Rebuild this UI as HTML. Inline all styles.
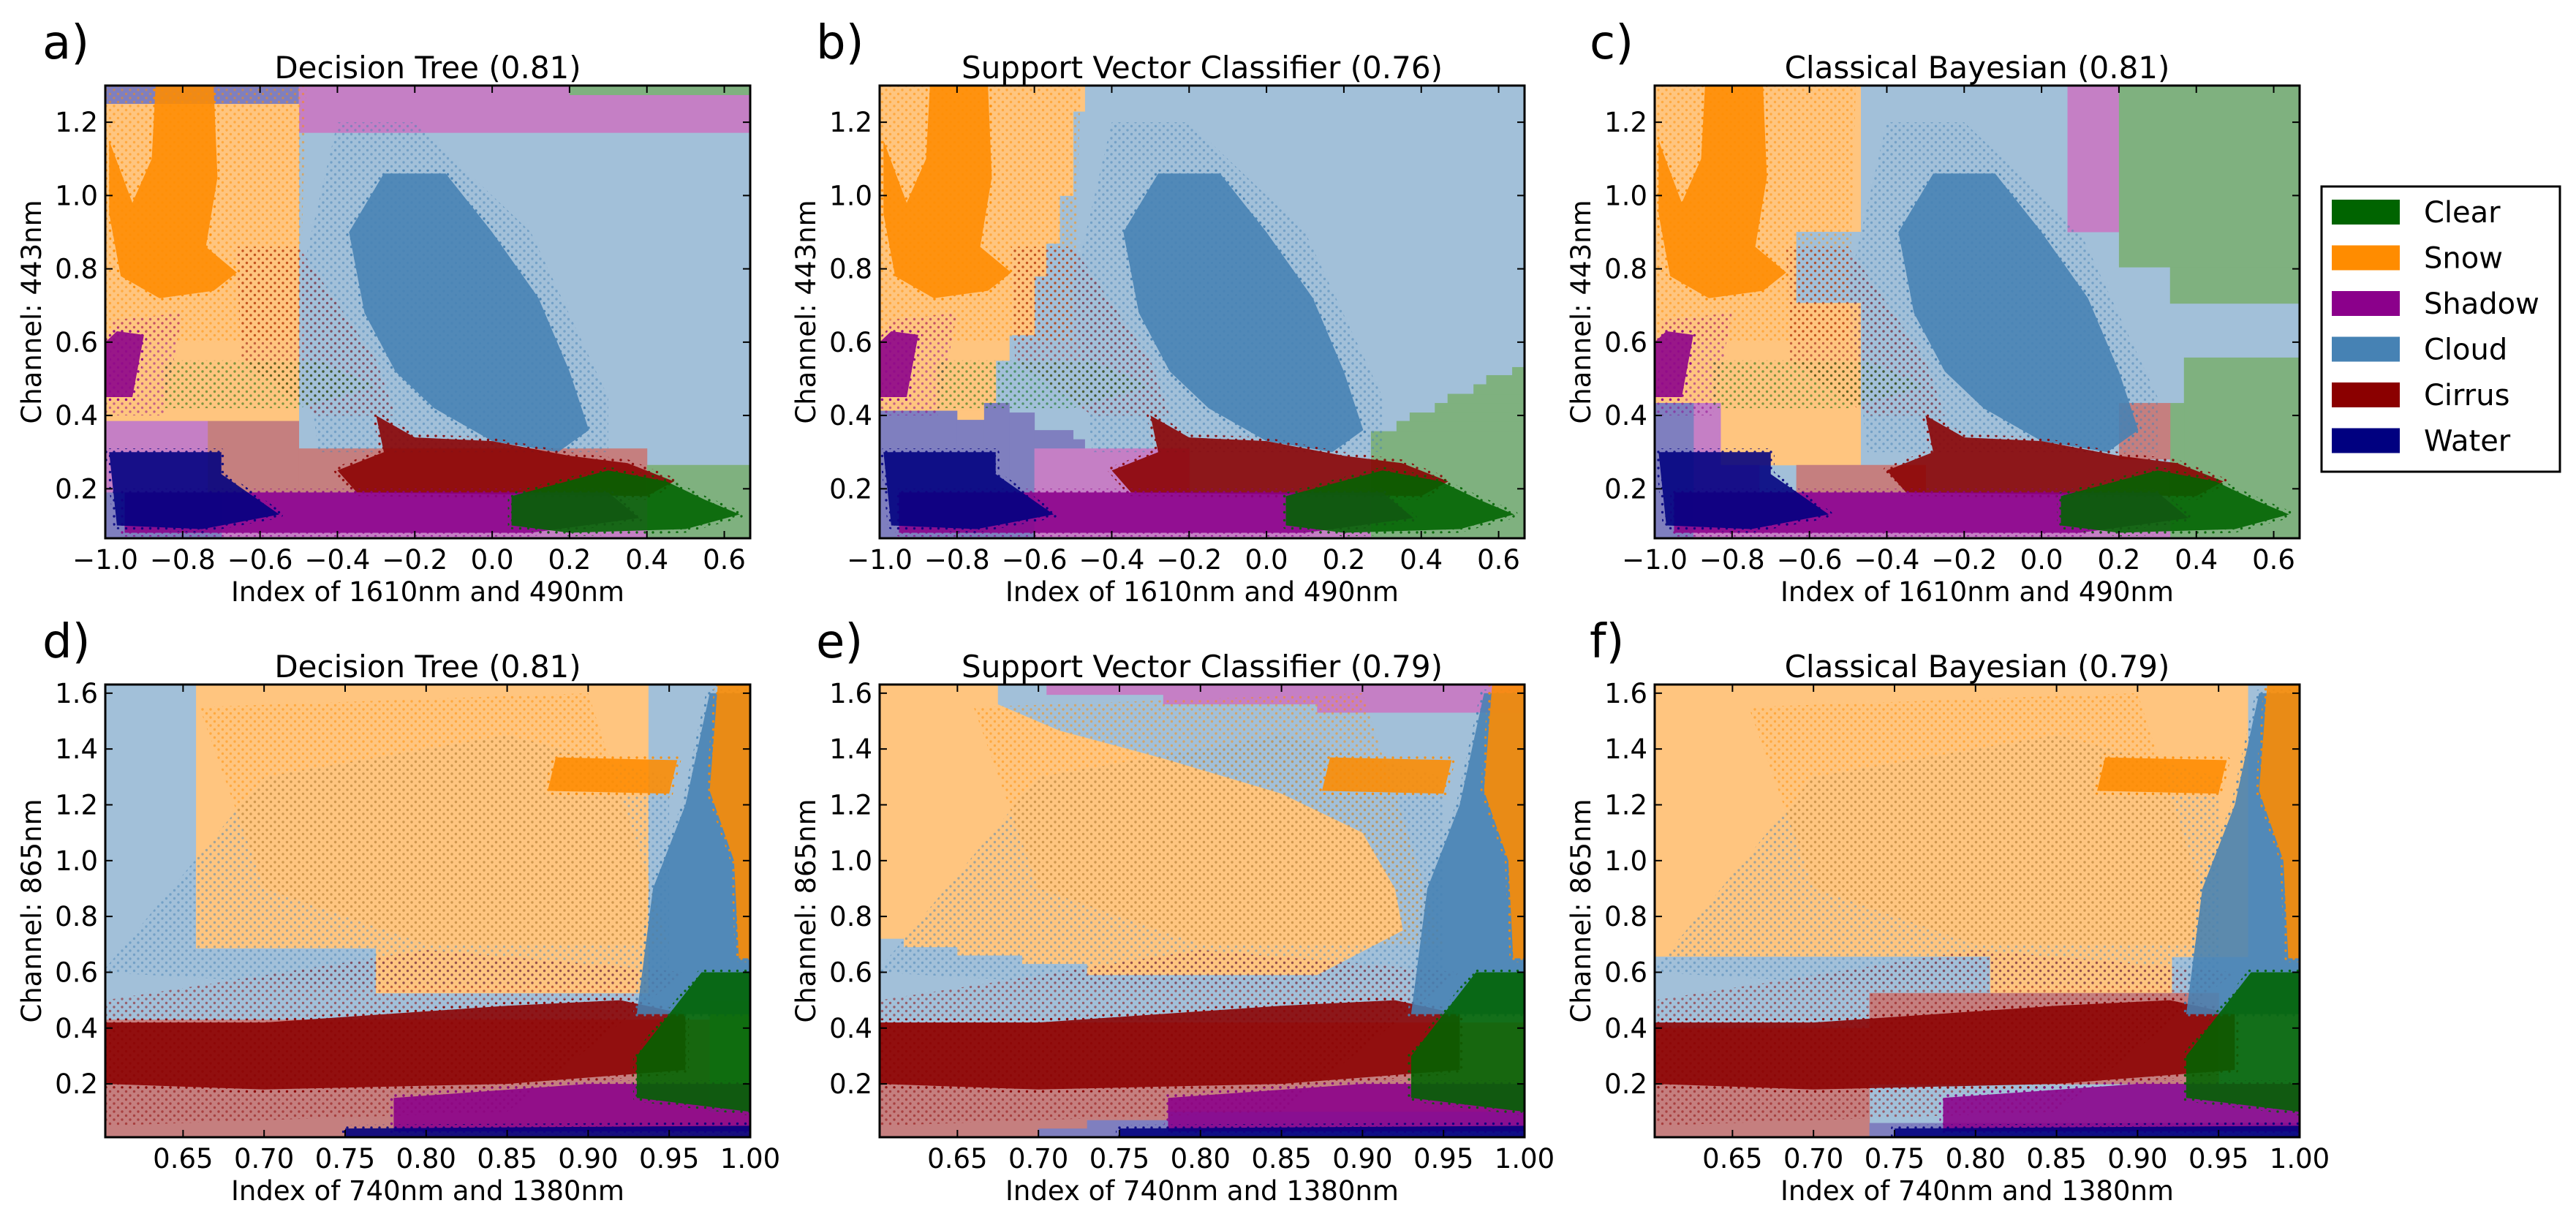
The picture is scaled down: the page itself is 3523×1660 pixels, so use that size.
<!DOCTYPE html>
<html><head><meta charset="utf-8">
<style>
html,body{margin:0;padding:0;background:#fff;}
svg{display:block;font-family:"DejaVu Sans","Liberation Sans",sans-serif;}
</style></head>
<body>
<svg id="fig" width="3523" height="1660" viewBox="0 0 3523 1660" xmlns="http://www.w3.org/2000/svg">
<defs id="defs"></defs>
</svg>
<script>
// ---------- data ----------
const classNames = ['clear','snow','shadow','cloud','cirrus','water'];
const legendLabels = ['Clear','Snow','Shadow','Cloud','Cirrus','Water'];
const solidColors = {clear:'#006400',snow:'#ff8c00',shadow:'#8b008b',cloud:'#4682b4',cirrus:'#8b0000',water:'#000080'};
const regionColors = {clear:'#7fb17f',snow:'#ffc57f',shadow:'#c57fc5',cloud:'#a2c0d9',cirrus:'#c57f7f',water:'#7f7fbf'};

const topXDomain = [-1.0, 0.667];
const topYDomain = [0.065, 1.3];
const botXDomain = [0.602, 1.0];
const botYDomain = [0.009, 1.631];
const topXTicks = [-1.0,-0.8,-0.6,-0.4,-0.2,0.0,0.2,0.4,0.6];
const topXTickLabels = ['\u22121.0','\u22120.8','\u22120.6','\u22120.4','\u22120.2','0.0','0.2','0.4','0.6'];
const topYTicks = [0.2,0.4,0.6,0.8,1.0,1.2];
const topYTickLabels = ['0.2','0.4','0.6','0.8','1.0','1.2'];
const botXTicks = [0.65,0.70,0.75,0.80,0.85,0.90,0.95,1.00];
const botXTickLabels = ['0.65','0.70','0.75','0.80','0.85','0.90','0.95','1.00'];
const botYTicks = [0.2,0.4,0.6,0.8,1.0,1.2,1.4,1.6];
const botYTickLabels = ['0.2','0.4','0.6','0.8','1.0','1.2','1.4','1.6'];

// decision regions: [class, x1, x2, y1, y2] (data units), background = cloud
const regionsA = [
 ['water',-1,-0.5,1.25,1.3],['shadow',-0.5,0.667,1.172,1.3],['clear',0.2,0.667,1.275,1.3],
 ['snow',-1,-0.5,0.385,1.25],['shadow',-1,-0.735,0.19,0.385],['cirrus',-0.735,-0.5,0.19,0.385],
 ['cirrus',-0.5,0.4,0.19,0.31],['clear',0.4,0.667,0.065,0.265],['shadow',-0.7,0.4,0.065,0.19],
 ['water',-1,-0.7,0.065,0.19]];
const regionsB = [
 ['snow',-1,-0.47,1.23,1.3],['snow',-1,-0.5,1.0,1.23],['snow',-1,-0.535,0.87,1.0],['snow',-1,-0.57,0.78,0.87],
 ['snow',-1,-0.6,0.62,0.78],['snow',-1,-0.665,0.55,0.62],['snow',-1,-0.7,0.413,0.55],['snow',-0.8,-0.73,0.388,0.413],
 ['water',-1,-0.8,0.065,0.413],['water',-0.8,-0.73,0.065,0.388],['water',-0.73,-0.665,0.065,0.434],
 ['water',-0.665,-0.6,0.065,0.408],['water',-0.6,-0.5,0.31,0.36],['water',-0.5,-0.47,0.31,0.335],
 ['shadow',-0.6,-0.2,0.065,0.31],['shadow',-0.2,0.27,0.065,0.19],
 ['clear',0.27,0.667,0.065,0.357],['clear',0.336,0.667,0.357,0.385],['clear',0.37,0.667,0.385,0.408],
 ['clear',0.435,0.667,0.408,0.434],['clear',0.468,0.667,0.434,0.459],['clear',0.535,0.667,0.459,0.485],
 ['clear',0.568,0.667,0.485,0.51],['clear',0.635,0.667,0.51,0.532]];
const regionsC = [
 ['snow',-1,-0.468,0.265,1.3],['cloud',-0.634,-0.468,0.708,0.901],['shadow',0.067,0.2,0.901,1.3],
 ['clear',0.2,0.667,0.805,1.3],['clear',0.332,0.667,0.706,0.805],['clear',0.368,0.667,0.065,0.558],
 ['clear',0.332,0.368,0.065,0.434],['cirrus',0.2,0.332,0.281,0.434],['cirrus',-0.634,-0.3,0.19,0.265],
 ['shadow',-1,-0.83,0.19,0.434],['shadow',-0.83,-0.73,0.19,0.265],['water',-1,-0.9,0.065,0.434],
 ['shadow',-0.9,0.332,0.065,0.19]];
const regionsD = [
 ['snow',0.658,0.937,0.687,1.631],['snow',0.769,0.937,0.526,0.687],['cirrus',0.602,1.0,0.009,0.43],
 ['clear',0.975,1.0,0.1,0.5]];
const regionsE = [['cirrus',0.602,1.0,0.009,0.42]];
const polyRegionsE = [
 ['snow',[[0.602,1.631],[0.675,1.631],[0.675,1.56],[0.713,1.466],[0.777,1.366],[0.85,1.24],[0.9,1.1],[0.92,0.9],[0.925,0.75],[0.872,0.59],[0.73,0.59],[0.73,0.63],[0.69,0.63],[0.69,0.66],[0.65,0.66],[0.65,0.69],[0.617,0.69],[0.617,0.72],[0.602,0.72]]],
 ['shadow',[[0.705,1.631],[1,1.631],[1,1.53],[0.872,1.53],[0.872,1.56],[0.777,1.56],[0.777,1.594],[0.705,1.594]]],
 ['water',[[0.7,0.009],[1,0.009],[1,0.1],[0.78,0.1],[0.78,0.07],[0.73,0.07],[0.73,0.04],[0.7,0.04]]]];
const regionsF = [
 ['snow',0.602,0.968,0.656,1.631],['cloud',0.602,0.809,0.40,0.656],['snow',0.809,0.921,0.526,0.656],
 ['cirrus',0.602,0.7345,0.009,0.40],['cirrus',0.7345,0.95,0.2,0.526],['water',0.7345,1,0.009,0.06]];

// scatter clusters (dense cores and sparse halos), data units
const topSparse = [
 ['snow',[[-1,0.6],[-0.5,0.6],[-0.48,1.3],[-1,1.3]]],
 ['cloud',[[-0.4,1.2],[-0.2,1.2],[0.1,0.9],[0.3,0.45],[0.3,0.3],[-0.45,0.3],[-0.5,0.75]]],
 ['cirrus',[[-0.66,0.86],[-0.5,0.86],[-0.3,0.55],[-0.25,0.4],[-0.45,0.4],[-0.65,0.55]]],
 ['shadow',[[-1,0.4],[-0.85,0.4],[-0.8,0.68],[-0.98,0.66]]],
 ['clear',[[-0.85,0.42],[-0.5,0.42],[-0.3,0.48],[-0.45,0.55],[-0.85,0.55]]]];
const topDense = [
 ['cloud',[[-0.28,1.06],[-0.12,1.06],[0.0,0.9],[0.12,0.72],[0.2,0.52],[0.25,0.36],[0.17,0.3],[0.0,0.33],[-0.15,0.42],[-0.25,0.52],[-0.33,0.68],[-0.37,0.9]]],
 ['snow',[[-0.87,1.3],[-0.72,1.3],[-0.71,1.05],[-0.74,0.86],[-0.66,0.79],[-0.72,0.74],[-0.86,0.72],[-0.96,0.78],[-0.99,0.95],[-0.99,1.15],[-0.93,0.98],[-0.88,1.1]]],
 ['shadow',[[-1,0.45],[-0.93,0.45],[-0.9,0.62],[-0.97,0.63],[-1,0.6]]],
 ['cirrus',[[-0.3,0.4],[-0.2,0.34],[0.0,0.33],[0.2,0.29],[0.35,0.27],[0.47,0.22],[0.4,0.18],[-0.35,0.19],[-0.4,0.25],[-0.28,0.3]]],
 ['shadow',[[-0.95,0.19],[0.3,0.19],[0.38,0.12],[0.1,0.08],[-0.95,0.08]]],
 ['water',[[-0.99,0.3],[-0.7,0.3],[-0.7,0.24],[-0.55,0.13],[-0.75,0.09],[-0.97,0.1]]],
 ['clear',[[0.05,0.18],[0.3,0.25],[0.45,0.22],[0.55,0.17],[0.64,0.13],[0.5,0.09],[0.2,0.08],[0.05,0.1]]]];
const botSparse = [
 ['cloud',[[0.6,0.6],[0.7,1.3],[0.85,1.45],[0.95,1.3],[0.95,0.55],[0.75,0.55]]],
 ['snow',[[0.66,1.55],[0.9,1.6],[0.95,0.7],[0.8,0.7],[0.7,0.9]]],
 ['cirrus',[[0.602,0.05],[0.85,0.1],[0.96,0.6],[0.8,0.68],[0.602,0.5]]]];
const botDense = [
 ['cirrus',[[0.602,0.42],[0.7,0.42],[0.85,0.48],[0.92,0.5],[0.96,0.45],[0.96,0.25],[0.85,0.2],[0.7,0.18],[0.602,0.2]]],
 ['cloud',[[0.93,0.45],[0.94,0.9],[0.96,1.2],[0.975,1.6],[1.0,1.6],[1.0,0.45]]],
 ['snow',[[0.875,1.25],[0.95,1.24],[0.955,1.36],[0.88,1.37]]],
 ['snow',[[0.975,1.25],[0.98,1.631],[1.0,1.631],[1.0,0.65],[0.993,0.65],[0.99,1.0]]],
 ['shadow',[[0.78,0.15],[0.9,0.2],[1.0,0.2],[1.0,0.03],[0.78,0.03]]],
 ['water',[[0.75,0.009],[1.0,0.009],[1.0,0.05],[0.75,0.04]]],
 ['clear',[[0.93,0.3],[0.97,0.6],[1.0,0.6],[1.0,0.1],[0.93,0.15]]]];

const panelTitles = ['Decision Tree (0.81)','Support Vector Classifier (0.76)','Classical Bayesian (0.81)','Decision Tree (0.81)','Support Vector Classifier (0.79)','Classical Bayesian (0.79)'];
const panelLetters = ['a)','b)','c)','d)','e)','f)'];

// ---------- layout ----------
const colX = [144, 1203, 2263];
const letterX = [58, 1116, 2174];
const PW = 882;
const rowY = [117, 936];
const PH = 619;

const NS = 'http://www.w3.org/2000/svg';
const svg = document.getElementById('fig');
const defs = document.getElementById('defs');
function mk(tag, attrs, parent){
  const e = document.createElementNS(NS, tag);
  for (const k in attrs) e.setAttribute(k, attrs[k]);
  (parent||svg).appendChild(e);
  return e;
}
classNames.forEach(c=>{
  const p = mk('pattern',{id:'dots-'+c,width:11,height:11,patternUnits:'userSpaceOnUse'},defs);
  mk('circle',{cx:2,cy:2,r:1.7,fill:solidColors[c]},p);
  mk('circle',{cx:7.5,cy:7.5,r:1.7,fill:solidColors[c]},p);
});

function drawPanel(i){
  const row = i<3?0:1, col = i%3;
  const x0 = colX[col], y0 = rowY[row];
  const xd = row===0?topXDomain:botXDomain, yd = row===0?topYDomain:botYDomain;
  const sx = v => x0 + (v-xd[0])/(xd[1]-xd[0])*PW;
  const sy = v => y0 + PH - (v-yd[0])/(yd[1]-yd[0])*PH;
  const regs = [regionsA,regionsB,regionsC,regionsD,regionsE,regionsF][i];
  const polys = i===4?polyRegionsE:[];
  const g = mk('g',{});
  
  
  const cp = mk('clipPath',{id:'clip'+i},defs);
  mk('rect',{x:x0,y:y0,width:PW,height:PH},cp);
  const plot = mk('g',{'clip-path':'url(#clip'+i+')'},g);
  const bg = mk('rect',{x:x0,y:y0,width:PW,height:PH,fill:regionColors.cloud},plot);
  
  
  regs.forEach(r=>{
    const x1=sx(r[1]), x2=sx(r[2]), ya=sy(r[4]), yb=sy(r[3]);
    const e = mk('rect',{x:x1,y:ya,width:x2-x1+0.5,height:yb-ya+0.5,fill:regionColors[r[0]]},plot);
    
    
  });
  polys.forEach(r=>{
    const e = mk('polygon',{points:r[1].map(p=>sx(p[0])+','+sy(p[1])).join(' '),fill:regionColors[r[0]]},plot);
    
    
  });
  const sp = row===0?topSparse:botSparse, dn = row===0?topDense:botDense;
  sp.forEach(r=>{
    const e = mk('polygon',{points:r[1].map(p=>sx(p[0])+','+sy(p[1])).join(' '),fill:'url(#dots-'+r[0]+')',opacity:0.5},plot);
    
    
  });
  dn.forEach(r=>{
    const e = mk('polygon',{points:r[1].map(p=>sx(p[0])+','+sy(p[1])).join(' '),fill:solidColors[r[0]],opacity:0.88,stroke:'url(#dots-'+r[0]+')','stroke-width':10,'stroke-linejoin':'round'},plot);
    
    
  });
  const xt = row===0?topXTicks:botXTicks, xl = row===0?topXTickLabels:botXTickLabels;
  const yt = row===0?topYTicks:botYTicks, yl = row===0?topYTickLabels:botYTickLabels;
  xt.forEach((v,k)=>{
    const x = sx(v);
    mk('line',{x1:x,x2:x,y1:y0+PH,y2:y0+PH-10,stroke:'#000','stroke-width':2},g);
    mk('line',{x1:x,x2:x,y1:y0,y2:y0+10,stroke:'#000','stroke-width':2},g);
    const t = mk('text',{x:x,y:y0+PH+42,'font-size':37,'text-anchor':'middle'},g);
    t.textContent = xl[k];
    
    
  });
  yt.forEach((v,k)=>{
    const y = sy(v);
    mk('line',{x1:x0,x2:x0+10,y1:y,y2:y,stroke:'#000','stroke-width':2},g);
    mk('line',{x1:x0+PW,x2:x0+PW-10,y1:y,y2:y,stroke:'#000','stroke-width':2},g);
    const t = mk('text',{x:x0-10,y:y+13,'font-size':37,'text-anchor':'end'},g);
    t.textContent = yl[k];
    
    
  });
  const frame = mk('rect',{x:x0,y:y0,width:PW,height:PH,fill:'none',stroke:'#000','stroke-width':3},g);
  
  
  const tt = mk('text',{x:x0+PW/2,y:y0-10,'font-size':42,'text-anchor':'middle'},g);
  tt.textContent = panelTitles[i];
  
  
  const lt = mk('text',{x:letterX[col],y:y0-37,'font-size':64},g);
  lt.textContent = panelLetters[i];
  
  
  const xa = mk('text',{x:x0+PW/2,y:y0+PH+86,'font-size':37,'text-anchor':'middle'},g);
  xa.textContent = row===0?'Index of 1610nm and 490nm':'Index of 740nm and 1380nm';
  
  
  const yx = x0-88, yy = y0+PH/2;
  const ya = mk('text',{x:yx,y:yy,'font-size':37,'text-anchor':'middle',transform:'rotate(-90 '+yx+' '+yy+')'},g);
  ya.textContent = row===0?'Channel: 443nm':'Channel: 865nm';
  
  
}
for (let i=0;i<6;i++) drawPanel(i);

const lg = mk('g',{});


mk('rect',{x:3175,y:255,width:326,height:390,fill:'#fff',stroke:'#000','stroke-width':3},lg);
legendLabels.forEach((lab,k)=>{
  const y = 273 + k*62.5;
  const s = mk('rect',{x:3189,y:y,width:93,height:34,fill:solidColors[classNames[k]]},lg);
  
  
  const t = mk('text',{x:3315,y:y+31,'font-size':40},lg);
  t.textContent = lab;
  
  
});
</script>
</body></html>
